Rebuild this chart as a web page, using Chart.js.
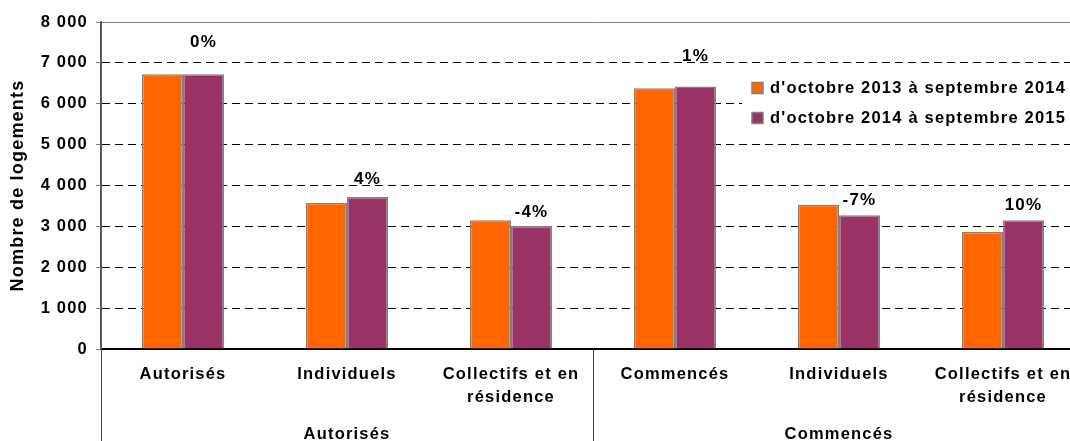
<!DOCTYPE html>
<html>
<head>
<meta charset="utf-8">
<script src="https://cdn.jsdelivr.net/npm/chart.js@4/dist/chart.umd.min.js"></script>
<style>
  html, body { margin: 0; padding: 0; background: #fff; overflow: hidden; }
  #wrap { width: 1090px; height: 441px; }
</style>
</head>
<body>
<div id="wrap"><canvas id="myChart" width="1090" height="441"></canvas></div>
<script>
// ====== DATA ======
const categories = ["Autorisés", "Individuels", ["Collectifs et en", "résidence"], "Commencés", "Individuels", ["Collectifs et en", "résidence"]];
const groups = ["Autorisés", "Commencés"];
const seriesNames = ["d'octobre 2013 à septembre 2014", "d'octobre 2014 à septembre 2015"];
const periode1 = [6720, 3570, 3150, 6380, 3530, 2860];
const periode2 = [6720, 3720, 3010, 6420, 3270, 3150];
const evolution = ["0%", "4%", "-4%", "1%", "-7%", "10%"];
const yMax = 8000;
const yStep = 1000;

const colors = ["#FF6600", "#993366"];
const FONT = '"Liberation Sans", Arial, sans-serif';

Chart.defaults.font.family = FONT;
Chart.defaults.color = "#000";

function fmt(v) {
  return String(v).replace(/\B(?=(\d{3})+(?!\d))/g, " ");
}

// the reference text is a bit wider than plain Arial
const spacing = {
  id: "spacing",
  beforeUpdate(chart) { chart.ctx.letterSpacing = "1.2px"; },
  beforeDraw(chart) { chart.ctx.letterSpacing = "1.2px"; }
};

// percent labels above each pair
const evolLabels = {
  id: "evolLabels",
  afterDatasetsDraw(chart) {
    const ctx = chart.ctx;
    const m1 = chart.getDatasetMeta(1);
    const y = chart.scales.y;
    ctx.save();
    ctx.font = "bold 17px " + FONT;
    ctx.fillStyle = "#000";
    ctx.textAlign = "center";
    ctx.textBaseline = "middle";
    evolution.forEach((txt, i) => {
      ctx.fillText(txt, m1.data[i].x, y.getPixelForValue(periode2[i] * 1.115));
    });
    ctx.restore();
  }
};

// vertical separators under the axis + legend box
const extras = {
  id: "extras",
  afterDraw(chart) {
    const ctx = chart.ctx;
    const x = chart.scales.x;
    const area = chart.chartArea;
    const bounds = [x.left, (x.getPixelForValue(2) + x.getPixelForValue(3)) / 2, x.right];
    ctx.save();
    ctx.strokeStyle = "#404040";
    ctx.lineWidth = 1;
    bounds.forEach(bx => {
      const px = Math.round(bx) + 0.5;
      ctx.beginPath();
      ctx.moveTo(px, area.bottom);
      ctx.lineTo(px, chart.height);
      ctx.stroke();
    });

    // legend
    ctx.fillStyle = "#fff";
    ctx.fillRect(742, 70, area.right - 742, 64);
    ctx.font = "bold 16.5px " + FONT;
    ctx.textBaseline = "middle";
    ctx.textAlign = "left";
    seriesNames.forEach((name, i) => {
      const y = 88 + i * 30;
      ctx.fillStyle = colors[i];
      ctx.fillRect(752, y - 5.5, 11, 11);
      ctx.strokeStyle = "#808080";
      ctx.lineWidth = 1.5;
      ctx.strokeRect(752, y - 5.5, 11, 11);
      ctx.fillStyle = "#000";
      ctx.fillText(name, 770, y);
    });
    ctx.restore();
  }
};

new Chart(document.getElementById("myChart"), {
  type: "bar",
  data: {
    labels: categories,
    datasets: [
      { label: seriesNames[0], data: periode1, backgroundColor: colors[0], borderColor: "#808080", borderWidth: 1.5 },
      { label: seriesNames[1], data: periode2, backgroundColor: colors[1], borderColor: "#808080", borderWidth: 1.5 }
    ]
  },
  options: {
    responsive: false,
    animation: false,
    devicePixelRatio: 1,
    events: [],
    layout: { padding: { top: 22, right: 5, left: 0, bottom: 0 } },
    datasets: { bar: { barPercentage: 1, categoryPercentage: 0.5 } },
    plugins: { legend: { display: false }, tooltip: { enabled: false } },
    scales: {
      x: {
        weight: 0,
        grid: { display: false, drawTicks: false },
        border: { display: true, color: "#000", width: 2 },
        ticks: {
          autoSkip: false, maxRotation: 0, padding: 14,
          font: { size: 16.5, weight: "bold", lineHeight: 1.4 }
        },
        afterFit(s) { s.height = 62; }
      },
      x2: {
        type: "category",
        labels: groups,
        position: "bottom",
        weight: 1,
        offset: true,
        grid: { display: false, drawTicks: false },
        border: { display: false },
        ticks: { autoSkip: false, maxRotation: 0, padding: 14, font: { size: 16.5, weight: "bold" } },
        afterFit(s) { s.height = 30; }
      },
      y: {
        min: 0,
        max: yMax,
        ticks: { stepSize: yStep, padding: 8, callback: v => fmt(v), font: { size: 16.5, weight: "bold" } },
        grid: {
          color: c => c.tick.value === 0 ? "rgba(0,0,0,0)" : (c.tick.value === yMax ? "#808080" : "#000"),
          lineWidth: 1,
          tickLength: 5,
          tickColor: "#808080",
          tickBorderDash: []
        },
        border: {
          display: true, color: "#595959", width: 2,
          dash: c => (c.tick && c.tick.value === yMax) ? [] : [8, 5]
        },
        title: {
          display: true, text: "Nombre de logements",
          font: { size: 18, weight: "bold" },
          padding: { top: 7, bottom: 0 }
        },
        afterFit(s) { s.width = 101; }
      }
    }
  },
  plugins: [spacing, evolLabels, extras]
});
</script>
</body>
</html>
